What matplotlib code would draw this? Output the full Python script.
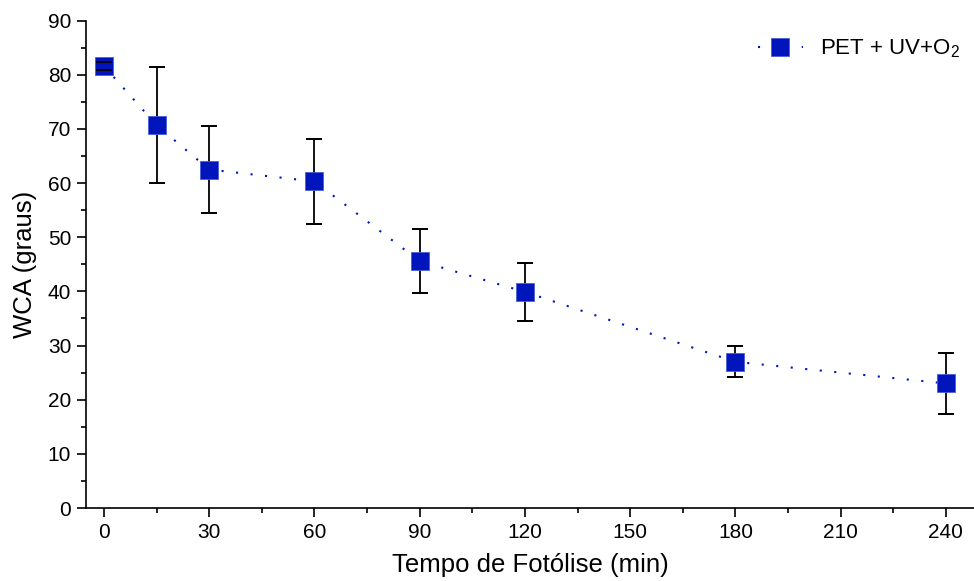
import numpy as np
import matplotlib.pyplot as plt
from matplotlib.ticker import MultipleLocator

plt.rcParams['font.family'] = ['Liberation Sans', 'DejaVu Sans']
plt.rcParams['mathtext.default'] = 'regular'

tempo = [0, 15, 30, 60, 90, 120, 180, 240]
wca = [81.6, 70.7, 62.5, 60.3, 45.6, 39.9, 27.0, 23.0]
erro = [0.8, 10.7, 8.1, 7.85, 5.9, 5.3, 2.9, 5.55]

azul = '#0015BC'

fig = plt.figure(figsize=(9.74, 5.81), dpi=100)
ax = fig.add_axes([0.0883, 0.1256, 0.9117, 0.839])

# barras de erro atras dos marcadores, tampas por cima
ax.errorbar(tempo, wca, yerr=erro, fmt='none', ecolor='black', elinewidth=1.3,
            capsize=5.6, capthick=1.3, zorder=2)
ax.plot(tempo, wca, linestyle=(0, (1, 6)), lw=1.5, color=azul, marker='s',
        markersize=13, markerfacecolor=azul, markeredgecolor='#4a5fd6',
        markeredgewidth=0.6, zorder=3, label='PET + UV+O$_2$')
ax.errorbar(tempo, wca, yerr=erro, fmt='none', ecolor='black', elinewidth=0,
            capsize=5.6, capthick=1.3, zorder=4)

ax.set_xlim(-5.1, 248)
ax.set_ylim(0, 90)
ax.xaxis.set_major_locator(MultipleLocator(30))
ax.xaxis.set_minor_locator(MultipleLocator(15))
ax.yaxis.set_major_locator(MultipleLocator(10))
ax.yaxis.set_minor_locator(MultipleLocator(5))

for lado in ['top', 'right']:
    ax.spines[lado].set_visible(False)
for lado in ['left', 'bottom']:
    ax.spines[lado].set_linewidth(1.2)

ax.tick_params(which='major', direction='out', length=6.7, width=1.2,
               labelsize=15, pad=4)
ax.tick_params(which='minor', direction='out', length=3.4, width=1.2)

ax.set_xlabel('Tempo de Fotólise (min)', fontsize=18.5, labelpad=8)
ax.set_ylabel('WCA (graus)', fontsize=18.5, labelpad=8)

ax.legend(loc='upper right', bbox_to_anchor=(0.997, 0.988), frameon=False,
          fontsize=16, handlelength=2.0, handletextpad=0.8, borderaxespad=0.1)

plt.savefig('out.png', dpi=100)
